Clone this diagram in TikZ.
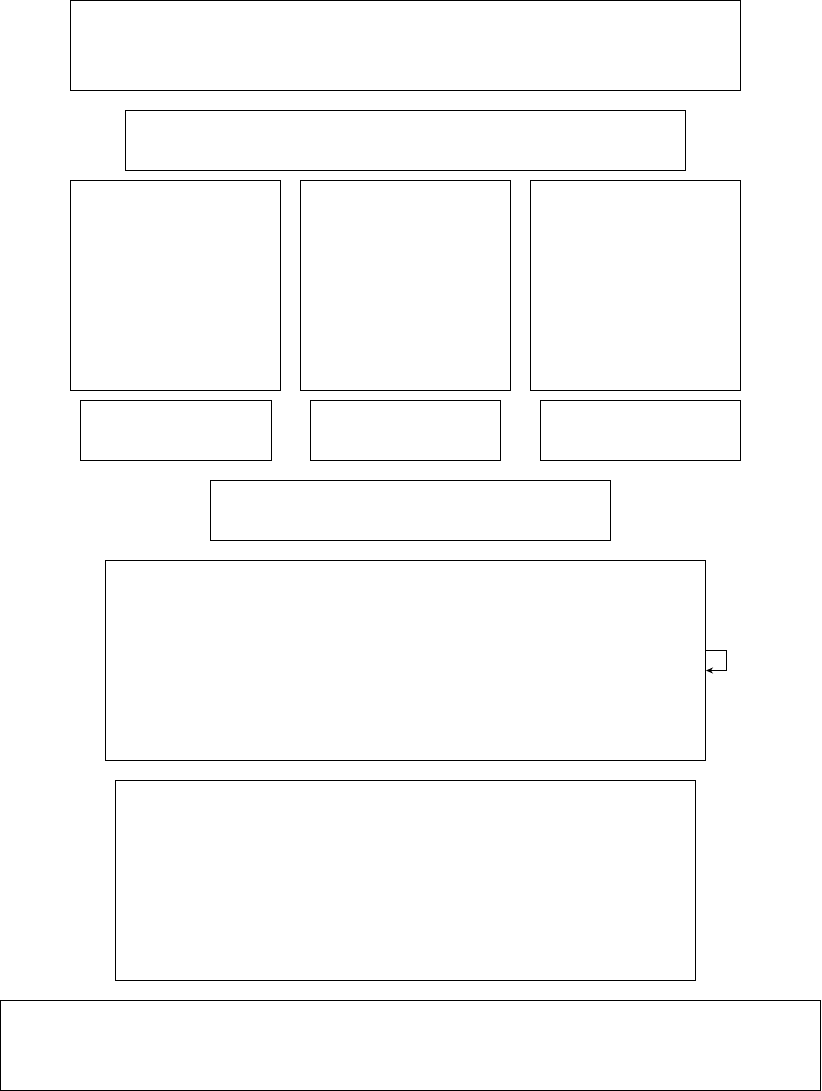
\documentclass[tikz,border=0pt]{standalone}
\usetikzlibrary{arrows.meta, positioning}

\begin{document}
\begin{tikzpicture}[
    x=1pt, y=-1pt,
    box/.style={draw=black, line width=1pt, inner sep=0pt, anchor=north west}
]
\useasboundingbox (0,0) rectangle (821,1091);
\node[box, minimum width=670pt, minimum height=90pt] (header) at (70, 0) {};
\node[box, minimum width=560pt, minimum height=60pt] (subheader) at (125, 110) {};
\node[box, minimum width=210pt, minimum height=210pt] (colA) at (70, 180) {};
\node[box, minimum width=210pt, minimum height=210pt] (colB) at (300, 180) {};
\node[box, minimum width=210pt, minimum height=210pt] (colC) at (530, 180) {};
\node[box, minimum width=191pt, minimum height=60pt] (noteA) at (80, 400) {};
\node[box, minimum width=190pt, minimum height=60pt] (noteB) at (310, 400) {};
\node[box, minimum width=200pt, minimum height=60pt] (noteC) at (540, 400) {};
\node[box, minimum width=400pt, minimum height=60pt] (merge) at (210, 480) {};
\node[box, minimum width=600pt, minimum height=200pt] (process) at (105, 560) {};
\node[box, minimum width=580pt, minimum height=200pt] (result) at (115, 780) {};
\node[box, minimum width=820pt, minimum height=90pt] (footer) at (0, 1000) {};
% loop on the process box
\draw[line width=1pt, -{Stealth[length=7pt, width=6pt]}]
    ([yshift=10pt]process.east) -- ++(20,0) |- ([yshift=-10pt]process.east);
\end{tikzpicture}
\end{document}
